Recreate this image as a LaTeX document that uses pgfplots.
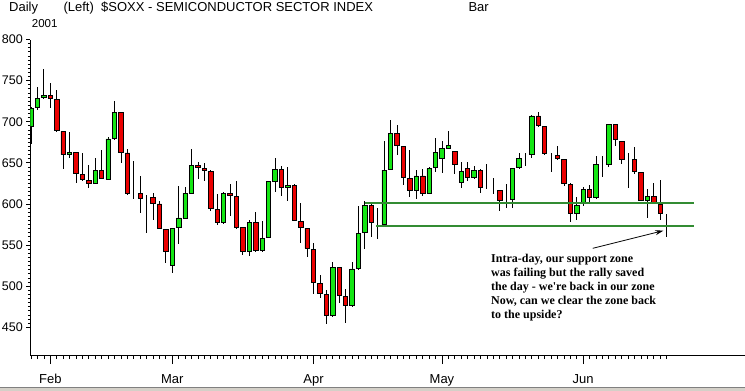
\documentclass[border=0pt]{standalone}
\usepackage{fontspec}
\setmainfont{Liberation Sans}
\newfontfamily\annfont{Liberation Serif}
\usepackage{pgfplots}
\pgfplotsset{compat=1.18}
\usepackage{pgfplotstable}
\usetikzlibrary{arrows.meta}
\definecolor{cgreen}{RGB}{20,230,20}
\definecolor{cred}{RGB}{235,0,0}
\definecolor{zone}{RGB}{50,140,50}
\definecolor{band}{RGB}{212,208,200}

\pgfplotstableread{
i O H L C
-3 694 718 673 716
-2 717 742 714 728
-1 730 764 728 732
0 732 747 717 728
1 727 739 687 689
2 688 689 642 660
3 660 687 656 663
4 663 663 625 637
5 636 662 628 630
6 629 647 619 625
7 625 656 624 641
8 641 666 630 630.5
9 630 682 629 679
10 680 725 678 711
11 711 712 650 663
12 662 667 611 613
13 613 652 606 613
14 613 634 589 607
15 608 611 565 608
16 608 613 580 601
17 600 603 569 570
18 569 570 528 542
19 525 571 516 570
20 571 622 551 583
21 583 621 582 613
22 613 667 612 647
23 647 651 630 645
24 643 650 628 641
25 640 641 591 594
26 593 612 574 578
27 577 614 576 613
28 613 624 585 611
29 609 628 570 572
30 571 572 538 542
31 542 581 537 578
32 578 590 541 543
33 544 579 541 558
34 559 628 558 627
35 627 656 614 642
36 642 646 610 620
37 620 645 604 623
38 623 624 579 580
39 579 601 552 572
40 570 571 535 546
41 545 553 491 504
42 503 514 486 491
43 490 495 454 465
44 465 530 463 523
45 523 523 479 489
46 487 496 455 477
47 477 530 475 521
48 522 598 520 564
49 566 603 545 598
50 598 600 560 578
51 576 595 557 576
52 575 676 574 641
53 642 702 641 686
54 686 696 659 671
55 670 670 623 632
56 631 666 608 617
57 617 641 606 634
58 634 643 610 613
59 613 645 612 643
60 644 680 639 663
61 656 676 638 667
62 668 689 667 671
63 664 665 637 648
64 626 651 620 640
65 643 651 628 632
66 632 646 630 641
67 641 642 613 620
68 619 649 618 619
69 618 632 612 618
70 616 617 591 604
71 604 624 595 604
72 605 644 595 643
73 644 662 643 655
74 657 662 646 657
75 660 708 656 707
76 707 712 693 695
77 694 695 660 662
78 661 662 639 661
79 659 671 654 655
80 654 655 622 625
81 624 625 578 589
82 589 609 580 598
83 601 621 597 618
84 618 623 602 608
85 608 658 606 648
86 648 658 633 648
87 648 697 645 697
88 697 697 671 678
89 676 677 648 654
90 654 662 619 654
91 654 669 637 639
92 638 639 603 604
93 604 618 583 609
94 609 625 601 602
95 600 629 581 589
96 587 588 560 587
}\candles

\begin{document}
\begin{tikzpicture}
\path[use as bounding box] (0pt,0pt) rectangle (745pt,-391pt);
\fill[band] (0pt,-387pt) rectangle (745pt,-391pt);
\draw[gray, line width=0.8pt] (0pt,-387pt) -- (745pt,-387pt);
\begin{axis}[
  at={(30.3pt,-355pt)}, anchor=south west,
  scale only axis, width=714.7pt, height=315.5pt,
  xmin=-3.12, xmax=108.2, ymin=416.3, ymax=800,
  axis x line=bottom, axis y line=left,
  axis line style={-, line width=0.8pt, black},
  tick align=outside,
  major tick length=4pt, minor tick length=2.5pt,
  tick style={black, line width=0.8pt},
  xtick style={/pgfplots/major tick length=9pt, /pgfplots/minor tick length=4pt},
  xtick={0,19,41,61,83},
  xticklabels={Feb,Mar,Apr,May,Jun},
  minor xtick={-3,...,96},
  ytick={450,500,...,800},
  minor y tick num=9,
  /pgf/number format/assume math mode=true,
  yticklabel style={font=\fontsize{12.5}{14}\selectfont},
  xticklabel style={font=\fontsize{13}{15}\selectfont, yshift=-12pt},
  clip=true,
]
\addplot[draw=none, mark=none, error bars/.cd, y dir=both, y explicit,
  error mark=none, error bar style={draw=black, solid, line width=0.9pt}]
  table[x=i, y expr={(\thisrow{H}+\thisrow{L})/2}, y error expr={(\thisrow{H}-\thisrow{L})/2}] {\candles};
\addplot[ybar stacked, bar width=4.4pt, draw=none, fill=none]
  table[x=i, y expr={min(\thisrow{O},\thisrow{C})}] {\candles};
\addplot[ybar stacked, bar width=4.4pt, draw=black, line width=0.8pt, fill=cgreen]
  table[x=i, y expr={max(\thisrow{C}-\thisrow{O},0)}] {\candles};
\addplot[ybar stacked, bar width=4.4pt, draw=black, line width=0.8pt, fill=cred]
  table[x=i, y expr={max(\thisrow{O}-\thisrow{C},0)}] {\candles};
\addplot[zone, line width=2pt] coordinates {(49,601) (100.3,601)};
\addplot[zone, line width=2pt] coordinates {(50.8,573) (100.3,573)};
\end{axis}
\node[anchor=base west, inner sep=0pt, font=\fontsize{13}{15}\selectfont] at (9pt,-11.7pt) {Daily};
\node[anchor=base west, inner sep=0pt, font=\fontsize{13}{15}\selectfont] at (63.3pt,-11.7pt) {(Left)};
\node[anchor=base west, inner sep=0pt, font=\fontsize{13}{15}\selectfont] at (101pt,-11.7pt) {\$SOXX - SEMICONDUCTOR SECTOR INDEX};
\node[anchor=base west, inner sep=0pt, font=\fontsize{13}{15}\selectfont] at (468.3pt,-11.7pt) {Bar};
\node[anchor=base west, inner sep=0pt, font=\fontsize{11.5}{14}\selectfont] at (31.7pt,-27.7pt) {2001};
\node[anchor=north west, inner sep=0pt, align=left, font=\annfont\bfseries\fontsize{12}{14}\selectfont] at (491pt,-253.5pt)
  {Intra-day, our support zone\\was failing but the rally saved\\the day - we're back in our zone\\Now, can we clear the zone back\\to the upside?};
\draw[-{Stealth[length=8pt,width=5pt]}, line width=0.8pt] (592.7pt,-248.3pt) -- (663.3pt,-230.7pt);
\end{tikzpicture}
\end{document}
